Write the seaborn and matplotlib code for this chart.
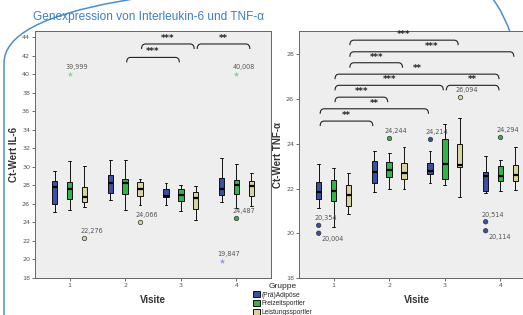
import numpy as np
import pandas as pd
import matplotlib
matplotlib.use("Agg")
import matplotlib.pyplot as plt
import seaborn as sns
from matplotlib.patches import FancyBboxPatch, PathPatch
from matplotlib.path import Path
from matplotlib.transforms import IdentityTransform

# ---------------- data ----------------
visits = ["1", "2", "3", "4"]
groups = ["(Prä)Adipöse", "Freizeitsportler", "Leistungssportler"]

# box statistics per visit: (lower whisker, Q1, median, Q3, upper whisker)
il6_adipoese = [(25.14, 26.00, 27.87, 28.45, 29.53), (26.40, 27.19, 28.20, 29.10, 30.76),
                (25.90, 26.72, 26.86, 27.62, 28.27), (26.20, 26.97, 27.55, 28.74, 30.97)]
il6_freizeit = [(25.35, 26.54, 27.59, 28.38, 30.58), (25.39, 27.08, 28.20, 28.70, 30.68),
                (25.28, 26.32, 26.97, 27.59, 28.05), (25.60, 27.08, 28.05, 28.56, 30.30)]
il6_leistung = [(25.64, 26.20, 26.76, 27.84, 30.07), (25.93, 26.86, 27.59, 28.38, 28.70),
                (24.31, 25.46, 26.58, 27.26, 27.95), (25.75, 26.83, 27.90, 28.45, 29.35)]

tnf_adipoese = [(21.15, 21.55, 21.85, 22.30, 23.12), (21.84, 22.23, 22.75, 23.23, 23.69),
                (22.23, 22.64, 22.78, 23.14, 23.67), (21.82, 21.90, 22.58, 22.75, 23.45)]
tnf_freizeit = [(20.26, 21.45, 21.88, 22.38, 22.93), (21.99, 22.50, 22.81, 23.18, 23.60),
                (22.14, 22.43, 23.08, 24.24, 24.87), (21.90, 22.33, 22.57, 23.00, 23.27)]
tnf_leistung = [(20.88, 21.24, 21.73, 22.15, 22.70), (21.96, 22.45, 22.69, 23.15, 23.84),
                (21.63, 22.97, 23.05, 23.99, 25.14), (21.93, 22.34, 22.63, 23.05, 23.87)]

# outliers
il6_out_visit = ["1", "1", "2", "4", "4", "4"]
il6_out_group = ["Leistungssportler", "Freizeitsportler", "Leistungssportler",
                 "Freizeitsportler", "Freizeitsportler", "(Prä)Adipöse"]
il6_out_value = [22.276, 39.999, 24.066, 24.487, 40.008, 19.847]
il6_out_extreme = [False, True, False, False, True, True]
il6_out_below = [False, False, False, False, False, False]

tnf_out_visit = ["1", "1", "2", "3", "3", "4", "4", "4"]
tnf_out_group = ["(Prä)Adipöse", "(Prä)Adipöse", "Freizeitsportler", "(Prä)Adipöse",
                 "Leistungssportler", "(Prä)Adipöse", "(Prä)Adipöse", "Freizeitsportler"]
tnf_out_value = [20.354, 20.004, 24.244, 24.214, 26.094, 20.514, 20.114, 24.294]
tnf_out_extreme = [False] * 8
tnf_out_below = [False, True, False, False, False, False, True, False]

# significance brackets: group, visit from, visit to, level, label
il6_br_group = ["Leistungssportler", "Leistungssportler", "Freizeitsportler"]
il6_br_from = ["2", "3", "2"]
il6_br_to = ["3", "4", "3"]
il6_br_y = [43.25, 43.25, 41.8]
il6_br_label = ["***", "**", "***"]

tnf_br_group = ["Leistungssportler", "Leistungssportler", "Leistungssportler",
                "Freizeitsportler", "Freizeitsportler", "Freizeitsportler", "Freizeitsportler",
                "(Prä)Adipöse", "(Prä)Adipöse"]
tnf_br_from = ["1", "1", "1", "1", "1", "3", "1", "1", "1"]
tnf_br_to = ["3", "4", "2", "4", "3", "4", "2", "3", "2"]
tnf_br_y = [28.64, 28.12, 27.63, 27.12, 26.62, 26.62, 26.09, 25.57, 25.02]
tnf_br_label = ["***", "***", "***", "**", "***", "**", "***", "**", "**"]

palette = ["#3a50a4", "#33b449", "#d9d49e"]
star_palette = ["#8d9de0", "#80d68a", "#e6e2b8"]

# ---------------- helpers ----------------
def long_frame(stats_by_group):
    rows = []
    for g, stats in zip(groups, stats_by_group):
        for v, s in zip(visits, stats):
            for val in s:
                rows.append({"Visite": v, "Gruppe": g, "Wert": val})
    return pd.DataFrame(rows)


def hue_pos(visit, group):
    n = len(groups)
    w = 0.8 / n
    return visits.index(visit) + (groups.index(group) - (n - 1) / 2) * w


sns.set_style("ticks")
plt.rcParams["font.family"] = ["Liberation Sans", "DejaVu Sans"]

W, H = 523, 315
fig = plt.figure(figsize=(W / 100, H / 100), dpi=100)

# decorative rounded frame (pixel coordinates)
frame = FancyBboxPatch((4, H + 19 - 460), 539, 460, boxstyle="round,pad=0,rounding_size=82",
                       transform=IdentityTransform(), fill=False,
                       edgecolor="#4a8fd2", linewidth=1.1, zorder=0)
fig.add_artist(frame)

fig.text(33 / W, 1 - 17 / H, "Genexpression von Interleukin-6 und TNF-α",
         color="#3d7fc6", fontsize=8.6, va="center", ha="left")

ax1 = fig.add_axes([35 / W, 37 / H, 236 / W, 247 / H])
ax2 = fig.add_axes([299 / W, 37 / H, 236 / W, 247 / H])

panels = [
    (ax1, [il6_adipoese, il6_freizeit, il6_leistung], (18, 44.65), np.arange(18, 45, 2),
     "Ct-Wert IL-6",
     (il6_out_visit, il6_out_group, il6_out_value, il6_out_extreme, il6_out_below),
     (il6_br_group, il6_br_from, il6_br_to, il6_br_y, il6_br_label), False),
    (ax2, [tnf_adipoese, tnf_freizeit, tnf_leistung], (18, 29.05), np.arange(18, 29, 2),
     "Ct-Wert TNF-α",
     (tnf_out_visit, tnf_out_group, tnf_out_value, tnf_out_extreme, tnf_out_below),
     (tnf_br_group, tnf_br_from, tnf_br_to, tnf_br_y, tnf_br_label), True),
]

XL = (-0.62, 3.62)
for ax, stats, ylim, yticks, ylabel, outs, brs, show_legend in panels:
    df = long_frame(stats)
    ax.set_facecolor("#eeeeee")
    sns.boxplot(data=df, x="Visite", y="Wert", hue="Gruppe", order=visits,
                hue_order=groups, palette=palette, saturation=1, width=0.8, gap=0.64,
                whis=(0, 100), fliersize=0, linewidth=0.7, linecolor="#111111",
                medianprops={"linewidth": 1.6, "color": "black"},
                legend=show_legend, ax=ax, zorder=3)

    ov, og, oval, oext, obelow = outs
    odf = pd.DataFrame({"Visite": ov, "Gruppe": og, "Wert": oval, "ext": oext})
    circ = odf[~odf["ext"]]
    star = odf[odf["ext"]]
    if len(circ):
        sns.stripplot(data=circ, x="Visite", y="Wert", hue="Gruppe", order=visits,
                      hue_order=groups, palette=palette, dodge=True, jitter=False,
                      size=3.2, linewidth=0.5, edgecolor="#333333", legend=False,
                      ax=ax, zorder=4)
    if len(star):
        sns.stripplot(data=star, x="Visite", y="Wert", hue="Gruppe", order=visits,
                      hue_order=groups, palette=star_palette, dodge=True, jitter=False,
                      size=4.2, marker="*", linewidth=0, legend=False, ax=ax, zorder=4)
    for v, g, val, below in zip(ov, og, oval, obelow):
        txt = f"{val:.3f}".replace(".", ",")
        off = (10, -4.5) if below else (5, 5)
        ax.annotate(txt, (hue_pos(v, g), val), xytext=off, textcoords="offset points",
                    ha="center", va="center", fontsize=4.7, color="#555555",
                    family="DejaVu Sans")

    ax.set_xlim(*XL)
    ax.set_ylim(*ylim)
    ax.set_yticks(yticks)
    ax.tick_params(axis="both", labelsize=4.6, length=2, width=0.6, colors="#555555",
                   pad=1.5)
    for lab in ax.get_xticklabels() + ax.get_yticklabels():
        lab.set_family("DejaVu Sans")
    for sp in ax.spines.values():
        sp.set_visible(True)
        sp.set_color("#666666")
        sp.set_linewidth(0.7)
    ax.set_xlabel("Visite", fontsize=7, fontweight="bold", color="#333333")
    ax.set_ylabel(ylabel, fontsize=7, fontweight="bold", color="#333333")
    ax.xaxis.set_label_coords(0.5, -0.069)
    ax.yaxis.set_label_coords(-0.066, 0.5)

    # brackets
    ppx = ax.bbox.width / (XL[1] - XL[0])
    ppy = ax.bbox.height / (ylim[1] - ylim[0])
    d = 5 / ppy
    e = 4 / ppx
    s = 1.5 / ppx
    bg, bf, bt, by, bl = brs
    for g, f, t, y, lab in zip(bg, bf, bt, by, bl):
        x1 = hue_pos(f, g) + s
        x2 = hue_pos(t, g) - s
        verts = [(x1, y - d), (x1, y), (x1 + e, y), (x2 - e, y), (x2, y), (x2, y - d)]
        codes = [Path.MOVETO, Path.CURVE3, Path.CURVE3, Path.LINETO, Path.CURVE3, Path.CURVE3]
        ax.add_patch(PathPatch(Path(verts, codes), fill=False, edgecolor="#222222",
                               linewidth=0.8, zorder=5))
        ax.text((x1 + x2) / 2, y + 1.0 / ppy, lab, ha="center", va="bottom",
                fontsize=6.2, fontweight="bold", color="#222222", family="DejaVu Sans",
                zorder=5)

sns.move_legend(ax2, "upper left", bbox_to_anchor=(253 / W, 1 - 283 / H),
                bbox_transform=fig.transFigure, frameon=False, title="Gruppe",
                fontsize=4.8, title_fontsize=6.0, handlelength=1.0, handleheight=1.0,
                handletextpad=0.3, labelspacing=0.2, borderpad=0, borderaxespad=0)

fig.savefig("out.png", dpi=100)
